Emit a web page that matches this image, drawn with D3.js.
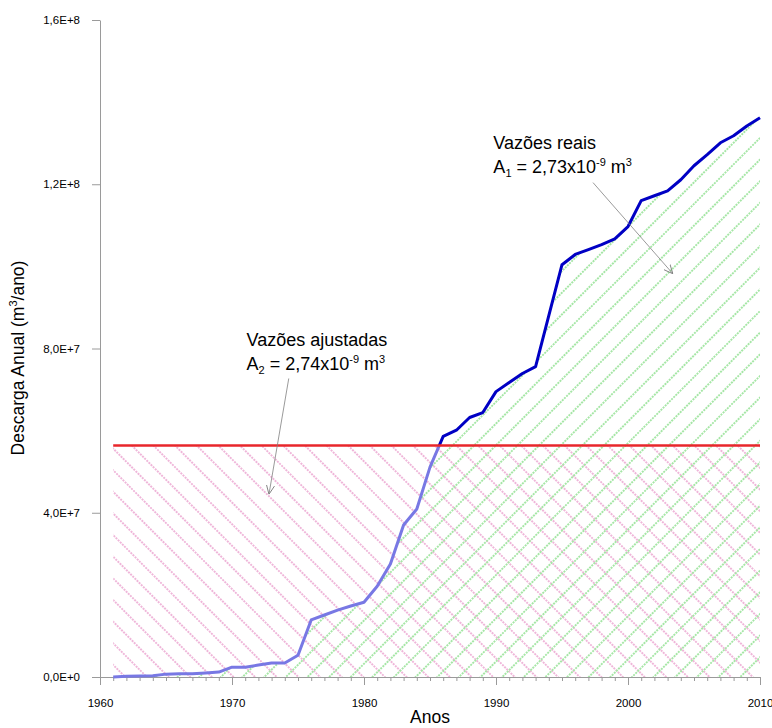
<!DOCTYPE html>
<html>
<head>
<meta charset="utf-8">
<script src="https://cdn.jsdelivr.net/npm/d3@7"></script>
<style>
  body { margin: 0; background: #fff; }
  text { font-family: "Liberation Sans", Arial, sans-serif; }
</style>
</head>
<body>
<div id="chart"></div>
<script>
// Annual discharge (m3/year)
const years = d3.range(1961, 2011);
const discharge = [
    0.0e6, 0.2e6, 0.25e6, 0.3e6, 0.7e6, 0.8e6, 0.8e6, 1.0e6, 1.2e6, 2.4e6,
    2.4e6, 2.9e6, 3.4e6, 3.4e6, 5.3e6, 13.9e6, 15.1e6, 16.3e6, 17.3e6, 18.2e6,
    22.1e6, 27.5e6, 37.0e6, 40.9e6, 51.1e6, 58.6e6, 60.1e6, 63.2e6, 64.4e6, 69.5e6,
    71.7e6, 73.9e6, 75.6e6, 88.0e6, 100.4e6, 102.9e6, 104.1e6, 105.3e6, 106.7e6, 109.7e6,
    116.0e6, 117.2e6, 118.4e6, 121.1e6, 124.5e6, 127.2e6, 130.1e6, 131.8e6, 134.2e6, 136.2e6
];
const adjusted = 5.64e7;   // constant adjusted discharge

const xTicks = [1960, 1970, 1980, 1990, 2000, 2010];
const yTicks = [0, 4e7, 8e7, 1.2e8, 1.6e8];
const yTickLabels = ["0,0E+0", "4,0E+7", "8,0E+7", "1,2E+8", "1,6E+8"];

// annotation anchors in data units: [year, value]
const noteReais = { text: [1989.8, 1.286e8], from: [1997.35, 1.204e8], to: [2003.4, 0.982e8] };
const noteAjust = { text: [1971.1, 0.807e8], from: [1974.3, 0.727e8], to: [1972.8, 0.445e8] };

const width = 772, height = 728;

const svg = d3.select("#chart").append("svg")
    .attr("width", width)
    .attr("height", height);

const x = d3.scaleLinear().domain([1960, 2010]).range([100, 760]);
const y = d3.scaleLinear().domain([0, 1.6e8]).range([677, 20]);

const defs = svg.append("defs");

function hatch(id, color, angle) {
    const p = defs.append("pattern")
        .attr("id", id)
        .attr("patternUnits", "userSpaceOnUse")
        .attr("width", 15)
        .attr("height", 15.3)
        .attr("patternTransform", `rotate(${angle})`);
    p.append("line")
        .attr("x1", 0).attr("x2", 15)
        .attr("y1", 7.6).attr("y2", 7.6)
        .attr("stroke", color)
        .attr("stroke-width", 2)
        .attr("stroke-dasharray", "2,1");
}
hatch("pinkHatch", "#efb6d9", 45);
hatch("greenHatch", "#a6e6a6", -45);

defs.append("clipPath").attr("id", "above")
    .append("rect").attr("x", 0).attr("y", 0).attr("width", width).attr("height", y(adjusted));
defs.append("clipPath").attr("id", "below")
    .append("rect").attr("x", 0).attr("y", y(adjusted)).attr("width", width).attr("height", height);

defs.append("marker")
    .attr("id", "arrow")
    .attr("viewBox", "0 -5 10 10")
    .attr("refX", 10)
    .attr("refY", 0)
    .attr("markerWidth", 9)
    .attr("markerHeight", 9)
    .attr("markerUnits", "userSpaceOnUse")
    .attr("orient", "auto")
    .append("path")
    .attr("d", "M0,-4.5L10,0L0,4.5")
    .attr("fill", "none")
    .attr("stroke", "#808080")
    .attr("stroke-width", 1);

const pts = years.map((yr, i) => ({ yr, v: discharge[i] }));

// pink area under adjusted line
svg.append("path")
    .datum(pts)
    .attr("fill", "url(#pinkHatch)")
    .attr("d", d3.area().x(d => x(d.yr)).y0(y(0)).y1(y(adjusted)));

// green area under real discharge
svg.append("path")
    .datum(pts)
    .attr("fill", "url(#greenHatch)")
    .attr("d", d3.area().x(d => x(d.yr)).y0(y(0)).y1(d => y(d.v)));

// axes
const xMinor = svg.append("g")
    .attr("transform", `translate(0,${y(0)})`)
    .call(d3.axisBottom(x).tickValues(d3.range(1960, 2011)).tickSize(4).tickSizeOuter(0).tickFormat(""));
const xMajor = svg.append("g")
    .attr("transform", `translate(0,${y(0)})`)
    .call(d3.axisBottom(x).tickValues(xTicks).tickSize(8).tickSizeOuter(0).tickPadding(14).tickFormat(d3.format("d")));
const yAxis = svg.append("g")
    .attr("transform", `translate(${x(1960)},0)`)
    .call(d3.axisLeft(y).tickValues(yTicks).tickSize(8).tickSizeOuter(0).tickPadding(12)
        .tickFormat((d, i) => yTickLabels[i]));

[xMinor, xMajor, yAxis].forEach(g => {
    g.selectAll("path, line").attr("stroke", "#9a9a9a");
    g.selectAll("text").attr("font-size", 11.5).attr("fill", "#000")
        .attr("font-family", "Liberation Sans, Arial, sans-serif");
});

// real discharge line, lighter where it sits under the pink hatch
const line = d3.line().x(d => x(d.yr)).y(d => y(d.v));
svg.append("path").datum(pts)
    .attr("clip-path", "url(#below)")
    .attr("fill", "none").attr("stroke", "#7878e4").attr("stroke-width", 3)
    .attr("stroke-linejoin", "round")
    .attr("d", line);
svg.append("path").datum(pts)
    .attr("clip-path", "url(#above)")
    .attr("fill", "none").attr("stroke", "#0000c4").attr("stroke-width", 3)
    .attr("stroke-linejoin", "round")
    .attr("d", line);

// adjusted line
svg.append("line")
    .attr("x1", x(1961)).attr("x2", x(2010))
    .attr("y1", y(adjusted)).attr("y2", y(adjusted))
    .attr("stroke", "#e8262b").attr("stroke-width", 2.5);

// annotations
function note(n, title, sub, val) {
    svg.append("line")
        .attr("x1", x(n.from[0])).attr("y1", y(n.from[1]))
        .attr("x2", x(n.to[0])).attr("y2", y(n.to[1]))
        .attr("stroke", "#808080").attr("stroke-width", 0.8)
        .attr("marker-end", "url(#arrow)");
    const tx = x(n.text[0]), ty = y(n.text[1]);
    svg.append("text").attr("x", tx).attr("y", ty)
        .attr("font-size", 18).text(title);
    const t = svg.append("text").attr("x", tx).attr("y", ty + 24).attr("font-size", 18);
    t.append("tspan").text("A");
    t.append("tspan").attr("font-size", 11).attr("dy", 4).text(sub);
    t.append("tspan").attr("dy", -4).text(" = " + val + "x10");
    t.append("tspan").attr("font-size", 11).attr("dy", -7).text("-9");
    t.append("tspan").attr("dy", 7).text(" m");
    t.append("tspan").attr("font-size", 11).attr("dy", -7).text("3");
}
note(noteReais, "Vazões reais", "1", "2,73");
note(noteAjust, "Vazões ajustadas", "2", "2,74");

// axis titles
svg.append("text")
    .attr("x", 430).attr("y", 723)
    .attr("text-anchor", "middle")
    .attr("font-size", 17.5)
    .text("Anos");

const yt = svg.append("text")
    .attr("transform", `translate(24,358) rotate(-90)`)
    .attr("text-anchor", "middle")
    .attr("font-size", 17.5);
yt.append("tspan").text("Descarga Anual (m");
yt.append("tspan").attr("font-size", 11).attr("dy", -7).text("3");
yt.append("tspan").attr("dy", 7).text("/ano)");
</script>
</body>
</html>
